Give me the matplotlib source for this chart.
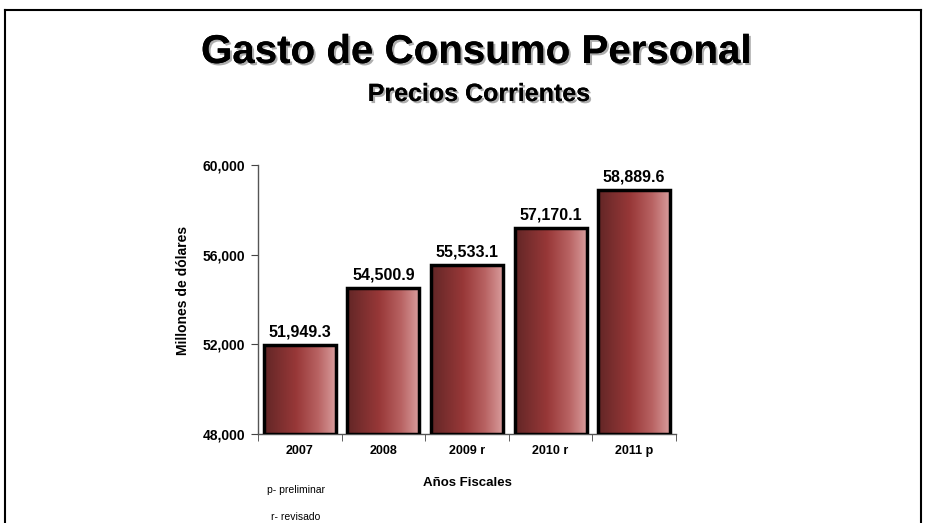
import matplotlib

matplotlib.use('Agg')
import matplotlib.pyplot as plt
import matplotlib.patheffects as pe
from matplotlib.colors import LinearSegmentedColormap
from matplotlib.lines import Line2D
import numpy as np

years = ['2007', '2008', '2009 r', '2010 r', '2011 p']
values = [51949.3, 54500.9, 55533.1, 57170.1, 58889.6]
y_ticks = [48000, 52000, 56000, 60000]

plt.rcParams['font.family'] = ['Liberation Sans', 'DejaVu Sans']

W, H = 927, 523
fig = plt.figure(figsize=(W / 100, H / 100), dpi=100)
fig.patch.set_facecolor('white')

# outer frame (open at the bottom)
for xs, ys in [([5, 5], [523, 10]), ([5, 921], [10, 10]), ([921, 921], [10, 523])]:
    fig.add_artist(Line2D([x / W for x in xs], [1 - y / H for y in ys],
                          color='black', linewidth=1.5))

shadow = [pe.withSimplePatchShadow(offset=(1.5, -1.5), shadow_rgbFace='#999999', alpha=0.8),
          pe.Normal()]
fig.text(476 / W, 1 - 52 / H, 'Gasto de Consumo Personal', ha='center', va='center',
         fontsize=29, fontweight='bold', path_effects=shadow)
fig.text(479 / W, 1 - 94 / H, 'Precios Corrientes', ha='center', va='center',
         fontsize=18, fontweight='bold', path_effects=shadow)

ax = fig.add_axes([258 / W, 1 - 434 / H, 418 / W, 269 / H])
x = np.arange(len(years))
bars = ax.bar(x, [v - y_ticks[0] for v in values], bottom=y_ticks[0], width=0.86,
              facecolor='none', edgecolor='black', linewidth=2.5, zorder=3)

cmap = LinearSegmentedColormap.from_list(
    'bar', [(0, '#622626'), (0.45, '#983838'), (0.75, '#b86262'), (1, '#d89c9c')])
grad = np.linspace(0, 1, 256).reshape(1, -1)
for b in bars:
    bx, by = b.get_x(), b.get_y()
    img = ax.imshow(grad, cmap=cmap, aspect='auto', zorder=2,
                    extent=[bx, bx + b.get_width(), by, by + b.get_height()])
    img.set_clip_path(b)

for xi, v in zip(x, values):
    ax.text(xi, v + 250, f'{v:,.1f}', ha='center', va='bottom',
            fontsize=11.5, fontweight='bold')

ax.set_xlim(-0.5, len(years) - 0.5)
ax.set_ylim(y_ticks[0], y_ticks[-1])
ax.set_yticks(y_ticks)
ax.set_yticklabels([f'{t:,}' for t in y_ticks], fontsize=10, fontweight='bold')
ax.set_xticks(x)
ax.set_xticklabels(years, fontsize=9, fontweight='bold')
ax.set_xticks(np.arange(-0.5, len(years)), minor=True)
ax.tick_params(axis='x', which='major', length=0, pad=8)
ax.tick_params(axis='x', which='minor', length=5, direction='out', color='#444444')
ax.tick_params(axis='y', length=5, direction='out', color='#444444', pad=4)
for side in ['top', 'right']:
    ax.spines[side].set_visible(False)
for side in ['left', 'bottom']:
    ax.spines[side].set_color('#555555')
    ax.spines[side].set_linewidth(1)

ax.set_ylabel('Millones de dólares', fontsize=10, fontweight='bold')
ax.yaxis.set_label_coords(-0.163, 0.535)
ax.set_xlabel('Años Fiscales', fontsize=9.5, fontweight='bold', labelpad=14)

fig.text(296 / W, 1 - 490 / H, 'p- preliminar', ha='center', va='center', fontsize=7.5)
fig.text(296 / W, 1 - 517 / H, 'r- revisado', ha='center', va='center', fontsize=7.5)

fig.savefig('out.png', dpi=100)
